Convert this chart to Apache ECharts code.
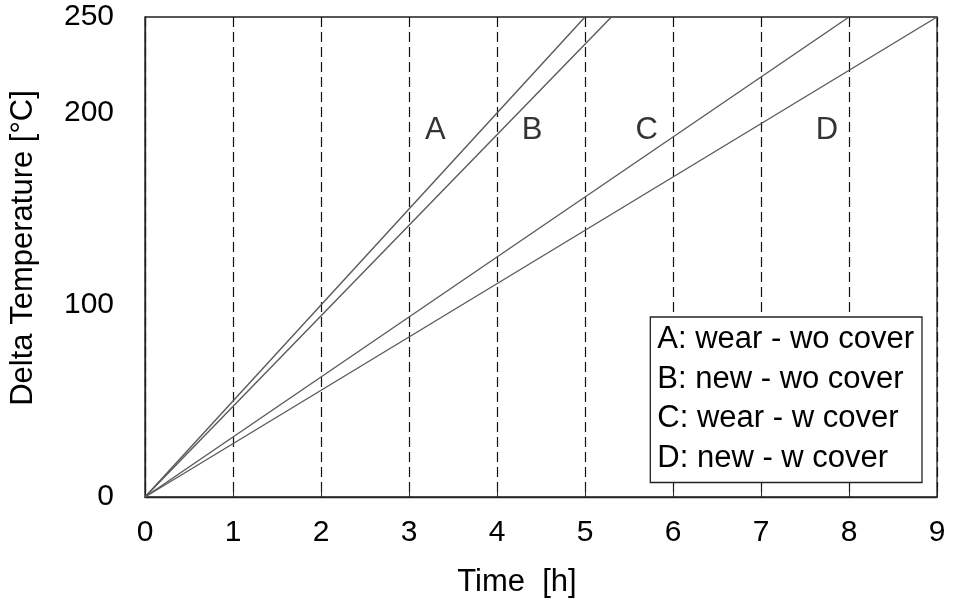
<!DOCTYPE html>
<html><head><meta charset="utf-8">
<script src="https://cdn.jsdelivr.net/npm/echarts@6/dist/echarts.min.js"></script>
<style>html,body{margin:0;padding:0;background:#fff}#c{width:957px;height:605px}</style>
</head><body><div id="c"></div>
<script>
var seriesNames = ['A: wear - wo cover', 'B: new - wo cover', 'C: wear - w cover', 'D: new - w cover'];
var timeA = [0, 5.0], tempA = [0, 250];
var timeB = [0, 5.3], tempB = [0, 250];
var timeC = [0, 8.0], tempC = [0, 250];
var timeD = [0, 9.0], tempD = [0, 250];
var curveLetters = ['A', 'B', 'C', 'D'];
var letterTime = [3.3, 4.4, 5.7, 7.75];
var letterTemp = [191, 191, 191, 191];
var yTickLabels = [0, 100, 200, 250];

function pairs(xs, ys){ return xs.map(function(x,i){return [x, ys[i]];}); }
var FONT = 'Liberation Sans, Arial, sans-serif';
var lineStyle = {color:'#5a5a5a', width:1.4};
var times = [timeA, timeB, timeC, timeD], temps = [tempA, tempB, tempC, tempD];
var series = seriesNames.map(function(n,i){
  return {name:n, type:'line', data:pairs(times[i], temps[i]), symbol:'none',
          lineStyle:lineStyle, itemStyle:{color:'#5a5a5a'}, silent:true, animation:false};
});
series.push({
  type:'scatter', symbolSize:0, silent:true, animation:false,
  data: curveLetters.map(function(l,i){return {value:[letterTime[i], letterTemp[i]], name:l};}),
  label:{show:true, position:'inside', formatter:function(p){return p.name;}, color:'#000', fontSize:31, fontFamily:FONT}
});

var chart = echarts.init(document.getElementById('c'));
chart.setOption({
  animation:false,
  backgroundColor:'#fff',
  grid:{left:142, right:20, top:17, bottom:108, show:true, borderColor:'#222', borderWidth:1.3, backgroundColor:'transparent'},
  legend:{
    data:seriesNames, orient:'vertical', right:35, top:317,
    icon:'none', itemWidth:0, itemHeight:10, itemGap:8.5,
    backgroundColor:'#fff', borderColor:'#222', borderWidth:1.3,
    padding:[7,8,9,6], selectedMode:false,
    textStyle:{fontSize:31, lineHeight:31, fontFamily:FONT, color:'#000', padding:[0,0,0,-4]}
  },
  xAxis:{
    type:'value', min:0, max:9, interval:1,
    name:'Time  [h]', nameLocation:'middle', nameGap:70,
    nameTextStyle:{fontSize:31, fontFamily:FONT, color:'#000', padding:[0,48,0,0]},
    axisLine:{show:true, lineStyle:{color:'#222', width:1.3}},
    axisTick:{show:true, inside:true, length:10, lineStyle:{color:'#222'}},
    axisLabel:{fontSize:30, fontFamily:FONT, color:'#000', margin:21},
    splitLine:{show:true, lineStyle:{color:'#111', type:[10,5], width:1.2}}
  },
  yAxis:{
    type:'value', min:0, max:250, interval:50,
    name:'Delta Temperature [°C]', nameLocation:'middle', nameGap:106,
    nameTextStyle:{fontSize:31, fontFamily:FONT, color:'#000', padding:[0,0,0,18]},
    axisLine:{show:true, lineStyle:{color:'#222', width:1.3}},
    axisTick:{show:false},
    axisLabel:{fontSize:30, fontFamily:FONT, color:'#000', margin:31,
      formatter:function(v){return yTickLabels.indexOf(v) >= 0 ? String(v) : '';}},
    splitLine:{show:false}
  },
  series:series
});
</script></body></html>
